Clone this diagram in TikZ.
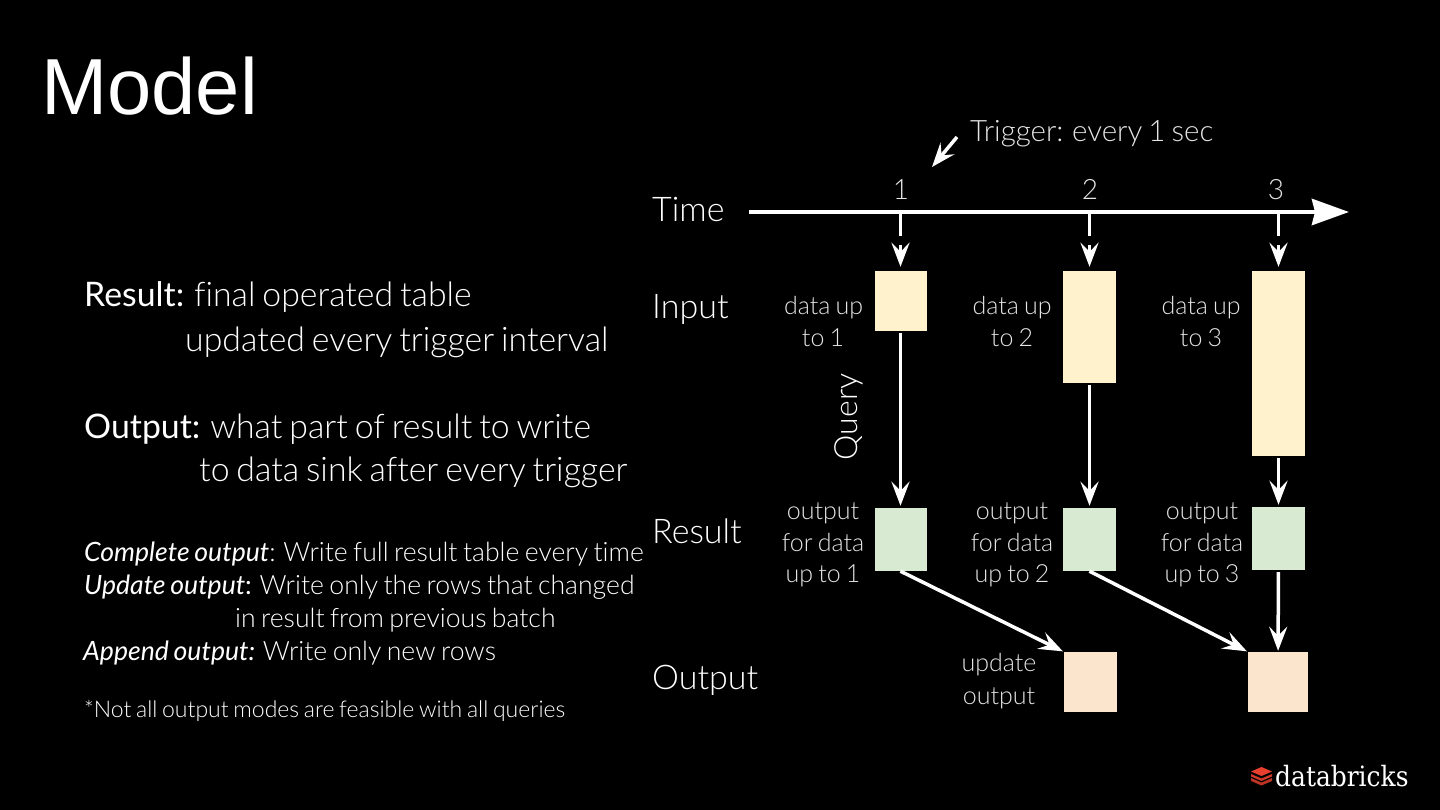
\documentclass[tikz,border=0pt]{standalone}
\usepackage{fontspec}
\setmainfont{Lato Light}[BoldFont={Lato},ItalicFont={Lato Italic},WordSpace=0.75,Ligatures=NoCommon]
\newfontfamily\titlefont{Liberation Sans}
\newfontfamily\logofont[FakeStretch=0.89]{DejaVu Serif}
\usepackage{xcolor}
\usetikzlibrary{arrows.meta}
\definecolor{inputFill}{HTML}{FFF2CC}
\definecolor{resultFill}{HTML}{D9EAD3}
\definecolor{outputFill}{HTML}{FCE5CD}
\definecolor{logoRed}{HTML}{E8402C}

\begin{document}
\begin{tikzpicture}[
  x=1pt, y=-1pt,
  txt/.style={anchor=base west, inner sep=0pt, text=white},
  bigText/.style={txt, font=\fontsize{33.8}{33.8}\selectfont},
  smallText/.style={txt, font=\fontsize{26.6}{26.6}\selectfont},
  rowLabel/.style={txt, font=\fontsize{34}{34}\selectfont},
  tickLabel/.style={anchor=base, inner sep=0pt, text=white!90!black,
                    font=\fontsize{28}{28}\selectfont},
  boxLabel/.style={anchor=base, inner sep=0pt, text=white!90!black,
                   font=\fontsize{25}{25}\selectfont},
  dataBox/.style={rectangle, inner sep=0pt, minimum width=#1},
  inputBox/.style={dataBox=53pt, fill=inputFill},
  resultBox/.style={dataBox=53pt, minimum height=63pt, fill=resultFill},
  outputBox/.style={fill=outputFill, rectangle, inner sep=0pt, minimum height=60pt},
  flow/.style={draw=white, line width=3.5pt,
    -{Stealth[length=24pt,width=18pt,inset=9pt]}},
  drop/.style={flow, dash pattern=on 24pt off 9pt, shorten >=4pt}
]
  \useasboundingbox (0,0) rectangle (1440,810);
  \fill[black] (0,0) rectangle (1440,810);

  % === Title ===
  \node[txt, font=\titlefont\fontsize{79.5}{79.5}\selectfont] (title) at (41,115) {Model};

  % === Left column ===
  \node[bigText] (resultHead) at (84,307) {\textbf{Result:} final operated table};
  \node[bigText] (resultMore) at (185,351) {updated every trigger interval};
  \node[bigText] (outputHead) at (84,438) {\textbf{Output:} what part of result to write};
  \node[bigText] (outputMore) at (199,481) {to data sink after every trigger};

  \node[smallText] (complete) at (84,561) {\textit{Complete output}: Write full result table every time};
  \node[smallText] (update) at (84,594) {\textit{Update output}\textbf{:} Write only the rows that changed};
  \node[smallText] (updateMore) at (235,627) {in result from previous batch};
  \node[smallText] (append) at (83,660) {\textit{Append output:} Write only new rows};
  \node[smallText, font=\fontsize{23}{23}\selectfont] (note) at (84,717) {*Not all output modes are feasible with all queries};

  % === Row labels ===
  \node[rowLabel] (timeLabel) at (652,222) {Time};
  \node[rowLabel] (inputLabel) at (652,318) {Input};
  \node[rowLabel] (resultLabel) at (652,543) {Result};
  \node[rowLabel] (outputLabel) at (652,689) {Output};
  \node[rowLabel, anchor=center, rotate=90, font=\fontsize{32}{32}\selectfont] (queryLabel) at (849,417) {Query};

  % === Time axis ===
  \coordinate (axisStart) at (749,212);
  \coordinate (axisEnd) at (1349,212);
  \draw[draw=white, line width=4.5pt, -{Stealth[length=37pt,width=26pt,inset=3pt]}]
    (axisStart) -- (axisEnd);
  \coordinate (tick1) at (900.5,212);
  \coordinate (tick2) at (1089.5,212);
  \coordinate (tick3) at (1278.5,212);
  \node[tickLabel] (num1) at (901,200) {1};
  \node[tickLabel] (num2) at (1090,200) {2};
  \node[tickLabel] (num3) at (1276,200) {3};

  % Trigger note
  \node[txt, font=\fontsize{29.5}{29.5}\selectfont, text=white!90!black] (trigger) at (970,142) {Trigger: every 1 sec};
  \coordinate (triggerStart) at (957,137);
  \coordinate (triggerTip) at (932,167);
  \draw[draw=white, line width=3.5pt, -{Stealth[length=24pt,width=18pt,inset=9pt]}]
    (triggerStart) -- (triggerTip);

  % === Input boxes ===
  \node[inputBox, minimum width=52pt, minimum height=60pt] (in1) at (900.5,301) {};
  \node[inputBox, minimum height=112pt] (in2) at (1089.5,327) {};
  \node[inputBox, minimum height=185pt] (in3) at (1278.5,363.5) {};

  % === Result boxes ===
  \node[resultBox, minimum width=52pt] (res1) at (900.5,539.5) {};
  \node[resultBox] (res2) at (1089.5,539.5) {};
  \node[resultBox] (res3) at (1278.5,538.5) {};

  % === Output boxes ===
  \node[outputBox, minimum width=53pt] (out1) at (1090.5,682) {};
  \node[outputBox, minimum width=60pt] (out2) at (1278,682) {};

  % === Box labels ===
  \node[boxLabel] (in1a) at (823.5,314) {data up};
  \node[boxLabel] (in1b) at (823,346) {to 1};
  \node[boxLabel] (in2a) at (1012,314) {data up};
  \node[boxLabel] (in2b) at (1012,346) {to 2};
  \node[boxLabel] (in3a) at (1201,314) {data up};
  \node[boxLabel] (in3b) at (1201,346) {to 3};
  \node[boxLabel] (res1a) at (823,519) {output};
  \node[boxLabel] (res1b) at (823,551) {for data};
  \node[boxLabel] (res1c) at (823,582) {up to 1};
  \node[boxLabel] (res2a) at (1012,519) {output};
  \node[boxLabel] (res2b) at (1012,551) {for data};
  \node[boxLabel] (res2c) at (1012,582) {up to 2};
  \node[boxLabel] (res3a) at (1202,519) {output};
  \node[boxLabel] (res3b) at (1202,551) {for data};
  \node[boxLabel] (res3c) at (1202,582) {up to 3};
  \node[boxLabel] (out1a) at (999,671) {update};
  \node[boxLabel] (out1b) at (999,704) {output};

  % === Arrows ===
  \draw[drop] (tick1) -- (in1);
  \draw[drop] (tick2) -- (in2);
  \draw[drop] (tick3) -- (in3);
  \draw[flow, shorten <=2pt, shorten >=2pt] (in1) -- (res1);
  \draw[flow, shorten <=2pt, shorten >=2pt] (in2) -- (res2);
  \draw[flow, shorten <=2pt, shorten >=2pt] (in3) -- (res3);
  \draw[flow, shorten >=1pt] (res1.south) -- (out1.north west);
  \draw[flow, shorten >=1pt] (res2.south) -- (out2.north west);
  \draw[flow, shorten <=2pt, shorten >=1pt] (res3) -- (out2);

  % === Logo ===
  \fill[logoRed] (1261.5,767) -- (1272,771.5) -- (1261.5,776) -- (1251,771.5) -- cycle;
  \fill[logoRed!90!black] (1251,774) -- (1261.5,778.5) -- (1272,774) -- (1272,776.5) -- (1261.5,781) -- (1251,776.5) -- cycle;
  \fill[logoRed!80!black] (1251,778) -- (1261.5,782.5) -- (1272,778) -- (1272,781) -- (1261.5,785.5) -- (1251,781) -- cycle;
  \node[txt, font=\logofont\fontsize{28}{28}\selectfont] (logo) at (1275,786) {databricks};
\end{tikzpicture}
\end{document}
